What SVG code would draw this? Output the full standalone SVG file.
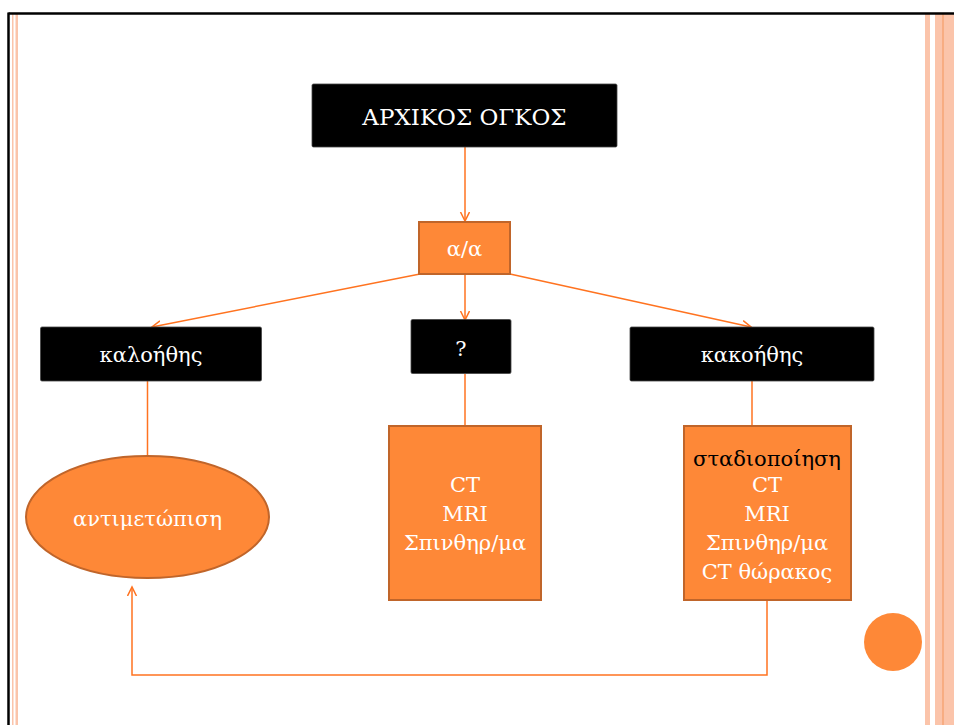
<svg xmlns="http://www.w3.org/2000/svg" width="954" height="725" viewBox="0 0 954 725">
<style>
.blk{fill:#000;stroke:#444;stroke-width:0.8}
.org{fill:#FE8837;stroke:#C0652A;stroke-width:2}
.t{font-family:"DejaVu Serif","Liberation Serif",serif;font-size:21px;fill:#fff;text-anchor:middle}
.big{font-size:23px}
.tb{fill:#000}
.c{fill:none;stroke:#FF7320;stroke-width:1.5}
.pale{fill:#FBC4AA}
</style>
<defs>
<marker id="ah" markerUnits="userSpaceOnUse" markerWidth="12" markerHeight="12" refX="9" refY="5" orient="auto">
<path d="M0,0.5 L9,5 L0,9.5" fill="none" stroke="#FF7320" stroke-width="1.5"/>
</marker>
</defs>
<rect width="954" height="725" fill="#fff"/>
<g id="frame">
<rect class="pale" x="12" y="14" width="1.5" height="711"/>
<rect class="pale" x="15.5" y="14" width="2.5" height="711"/>
<rect class="pale" x="925" y="14" width="5" height="711"/>
<rect class="pale" x="935" y="14" width="19" height="711"/>
<line x1="943" y1="14" x2="943" y2="725" stroke="#F4955A" stroke-width="1"/>
<line x1="8.5" y1="13.5" x2="954" y2="13.5" stroke="#000" stroke-width="2.5"/>
<line x1="8.5" y1="12.5" x2="8.5" y2="725" stroke="#000" stroke-width="2.5"/>
<circle cx="893" cy="642" r="29" fill="#FE8837"/>
</g>
<g id="connectors">
<line class="c" x1="465" y1="147" x2="465" y2="221" marker-end="url(#ah)"/>
<line class="c" x1="420" y1="274" x2="152" y2="327" marker-end="url(#ah)"/>
<line class="c" x1="465" y1="274" x2="465" y2="320" marker-end="url(#ah)"/>
<line class="c" x1="510" y1="274" x2="751" y2="327" marker-end="url(#ah)"/>
<line class="c" x1="147.5" y1="381" x2="147.5" y2="463"/>
<line class="c" x1="465" y1="374" x2="465" y2="426"/>
<line class="c" x1="752" y1="381" x2="752" y2="426"/>
<path class="c" d="M767,600 V675 H132 V587" marker-end="url(#ah)"/>
</g>
<g id="n_arxikos">
<rect class="blk" x="312" y="84" width="305" height="63" rx="1.5"/>
<text class="t big" x="464.5" y="125">ΑΡΧΙΚΟΣ ΟΓΚΟΣ</text>
</g>
<g id="n_aa">
<rect class="org" x="419" y="222" width="91" height="52"/>
<text class="t" x="464.5" y="256">α/α</text>
</g>
<g id="n_kaloithis">
<rect class="blk" x="40.5" y="327" width="221" height="54" rx="1.5"/>
<text class="t" x="151" y="362">καλοήθης</text>
</g>
<g id="n_q">
<rect class="blk" x="411" y="319.5" width="100" height="54" rx="1.5"/>
<text class="t" x="461" y="356">?</text>
</g>
<g id="n_kakoithis">
<rect class="blk" x="630" y="327" width="244" height="54" rx="1.5"/>
<text class="t" x="752" y="362">κακοήθης</text>
</g>
<g id="n_antimetopisi">
<ellipse class="org" cx="147.5" cy="517" rx="121.5" ry="61"/>
<text class="t" x="147.5" y="526">αντιμετώπιση</text>
</g>
<g id="n_exams">
<rect class="org" x="389" y="426" width="152" height="174"/>
<text class="t" x="465" y="492">CT</text>
<text class="t" x="465" y="521">MRI</text>
<text class="t" x="465" y="550">Σπινθηρ/μα</text>
</g>
<g id="n_staging">
<rect class="org" x="684" y="426" width="167" height="174"/>
<text class="t tb" x="767" y="466">σταδιοποίηση</text>
<text class="t" x="767" y="492">CT</text>
<text class="t" x="767" y="521">MRI</text>
<text class="t" x="767" y="550">Σπινθηρ/μα</text>
<text class="t" x="767" y="579">CT θώρακος</text>
</g>
</svg>
